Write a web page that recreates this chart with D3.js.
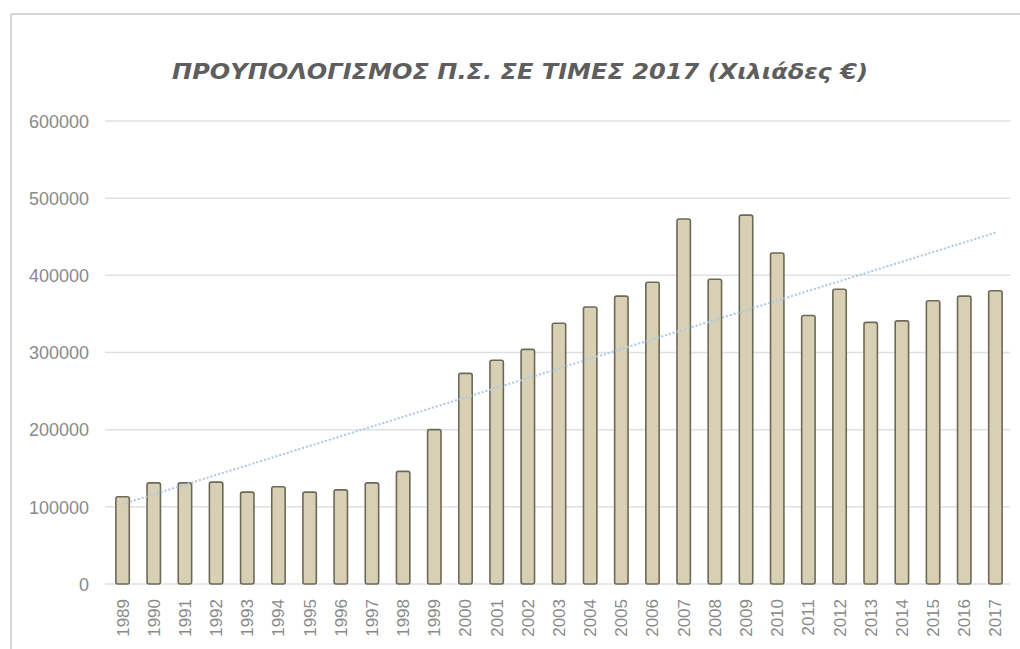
<!DOCTYPE html>
<html>
<head>
<meta charset="utf-8">
<script src="https://cdn.jsdelivr.net/npm/d3@7"></script>
<style>
  html, body { margin: 0; padding: 0; background: #fff; }
  svg { display: block; }
</style>
</head>
<body>
<svg id="chart" width="1020" height="649"></svg>
<script>
// Budget figures, thousands of euros at 2017 prices
const years = ["1989","1990","1991","1992","1993","1994","1995","1996","1997","1998",
               "1999","2000","2001","2002","2003","2004","2005","2006","2007","2008",
               "2009","2010","2011","2012","2013","2014","2015","2016","2017"];
const budget = [113000,131000,131000,132000,119000,126000,119000,122000,131000,146000,
                200000,273000,290000,304000,338000,359000,373000,391000,473000,395000,
                478000,429000,348000,382000,339000,341000,367000,373000,380000];
const yTicks = [0,100000,200000,300000,400000,500000,600000];
const titleText = "ΠΡΟΥΠΟΛΟΓΙΣΜΟΣ Π.Σ. ΣΕ ΤΙΜΕΣ 2017 (Χιλιάδες €)";

const svg = d3.select("#chart");

// frame edges
svg.append("line").attr("x1", 11).attr("x2", 1020).attr("y1", 14).attr("y2", 14)
  .attr("stroke", "#d6d6d6").attr("stroke-width", 2);
svg.append("line").attr("x1", 11).attr("x2", 11).attr("y1", 14).attr("y2", 649)
  .attr("stroke", "#d6d6d6").attr("stroke-width", 2);

const x = d3.scaleBand().domain(years).range([107, 1011])
  .paddingInner(0.57).paddingOuter(0.285);
const y = d3.scaleLinear().domain([0, 600000]).range([584, 121]);

// gridlines
svg.append("g").selectAll("line").data(yTicks).join("line")
  .attr("x1", 105).attr("x2", 1010)
  .attr("y1", d => y(d)).attr("y2", d => y(d))
  .attr("stroke", "#e0e0e0").attr("stroke-width", 1.5);

// y axis labels
const yAxis = d3.axisLeft(y).tickValues(yTicks).tickSize(0).tickPadding(0)
  .tickFormat(d3.format("d"));
svg.append("g").attr("transform", "translate(89,0)").call(yAxis)
  .call(g => g.select(".domain").remove())
  .selectAll("text")
  .attr("fill", "#8a8a8a").attr("font-family", "Liberation Sans, Arial, sans-serif")
  .attr("font-size", 18).attr("dy", "0.35em");

// bars
svg.append("g").selectAll("rect").data(years).join("rect")
  .attr("x", d => x(d))
  .attr("y", (d, i) => y(budget[i]))
  .attr("width", x.bandwidth())
  .attr("height", (d, i) => y(0) - y(budget[i]))
  .attr("rx", 2)
  .attr("fill", "#d8d0b4")
  .attr("stroke", "#6d6956")
  .attr("stroke-width", 1.6);

// x axis labels, rotated
const xAxis = d3.axisBottom(x).tickSize(0).tickPadding(0);
svg.append("g").attr("transform", "translate(0,599)").call(xAxis)
  .call(g => g.select(".domain").remove())
  .selectAll("text")
  .attr("fill", "#8a8a8a").attr("font-family", "Liberation Sans, Arial, sans-serif")
  .attr("font-size", 17)
  .attr("text-anchor", "end")
  .attr("transform", "rotate(-90)")
  .attr("x", 0).attr("y", 0).attr("dy", "0.35em");

// linear trend line (least squares over the series)
const n = budget.length;
const xs = d3.range(n);
const mx = d3.mean(xs), my = d3.mean(budget);
const slope = d3.sum(xs, i => (i - mx) * (budget[i] - my)) / d3.sum(xs, i => (i - mx) ** 2);
const icpt = my - slope * mx;
const trend = xs.map(i => [x(years[i]) + x.bandwidth() / 2, y(icpt + slope * i)]);
svg.append("path")
  .attr("d", d3.line()(trend))
  .attr("fill", "none")
  .attr("stroke", "#a9c8e4")
  .attr("stroke-width", 2)
  .attr("stroke-dasharray", "2,2");

// title
svg.append("text")
  .attr("x", 520).attr("y", 79)
  .attr("text-anchor", "middle")
  .attr("font-family", "DejaVu Sans, sans-serif")
  .attr("font-style", "italic")
  .attr("font-weight", "bold")
  .attr("font-size", 22)
  .attr("fill", "#5e5e5e")
  .attr("textLength", 696)
  .attr("lengthAdjust", "spacingAndGlyphs")
  .text(titleText);
</script>
</body>
</html>
